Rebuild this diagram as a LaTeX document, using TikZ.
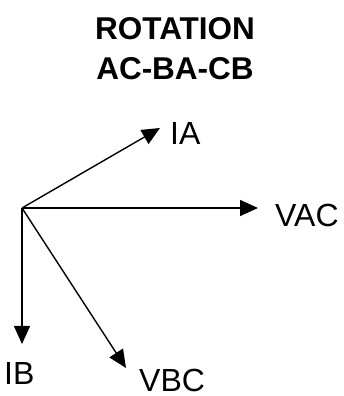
\documentclass[tikz,border=0pt]{standalone}
\usepackage{fontspec}
\setmainfont{Liberation Sans}
\usetikzlibrary{arrows.meta,positioning}

\begin{document}
\begin{tikzpicture}[x=1pt,y=1pt, every node/.style={font=\fontsize{32}{38}\selectfont,inner sep=0pt}, phasor/.style={-{Triangle[length=18pt,width=16pt]},line width=1.4pt}, lbl/.style={anchor=base west}, head/.style={anchor=base,font=\fontsize{31.5}{38}\selectfont\bfseries}]
\useasboundingbox (0,0) rectangle (343,396);
\node[head] (title) at (175,356) {ROTATION};
\node[head] (order) at (175,316) {AC-BA-CB};
\coordinate (o) at (22,188);
\coordinate (ia) at (160,268);
\coordinate (vac) at (258,188);
\coordinate (ib) at (22,52);
\coordinate (vbc) at (126,28);
\node[lbl] (lia) at (170,251) {IA};
\node[lbl] (lvac) at (275,169) {VAC};
\node[lbl] (lib) at (4,11) {IB};
\node[lbl] (lvbc) at (139,5) {VBC};
\draw[phasor] (o)--(ia);\draw[phasor] (o)--(vac);\draw[phasor] (o)--(ib);\draw[phasor] (o)--(vbc);
\end{tikzpicture}
\end{document}
